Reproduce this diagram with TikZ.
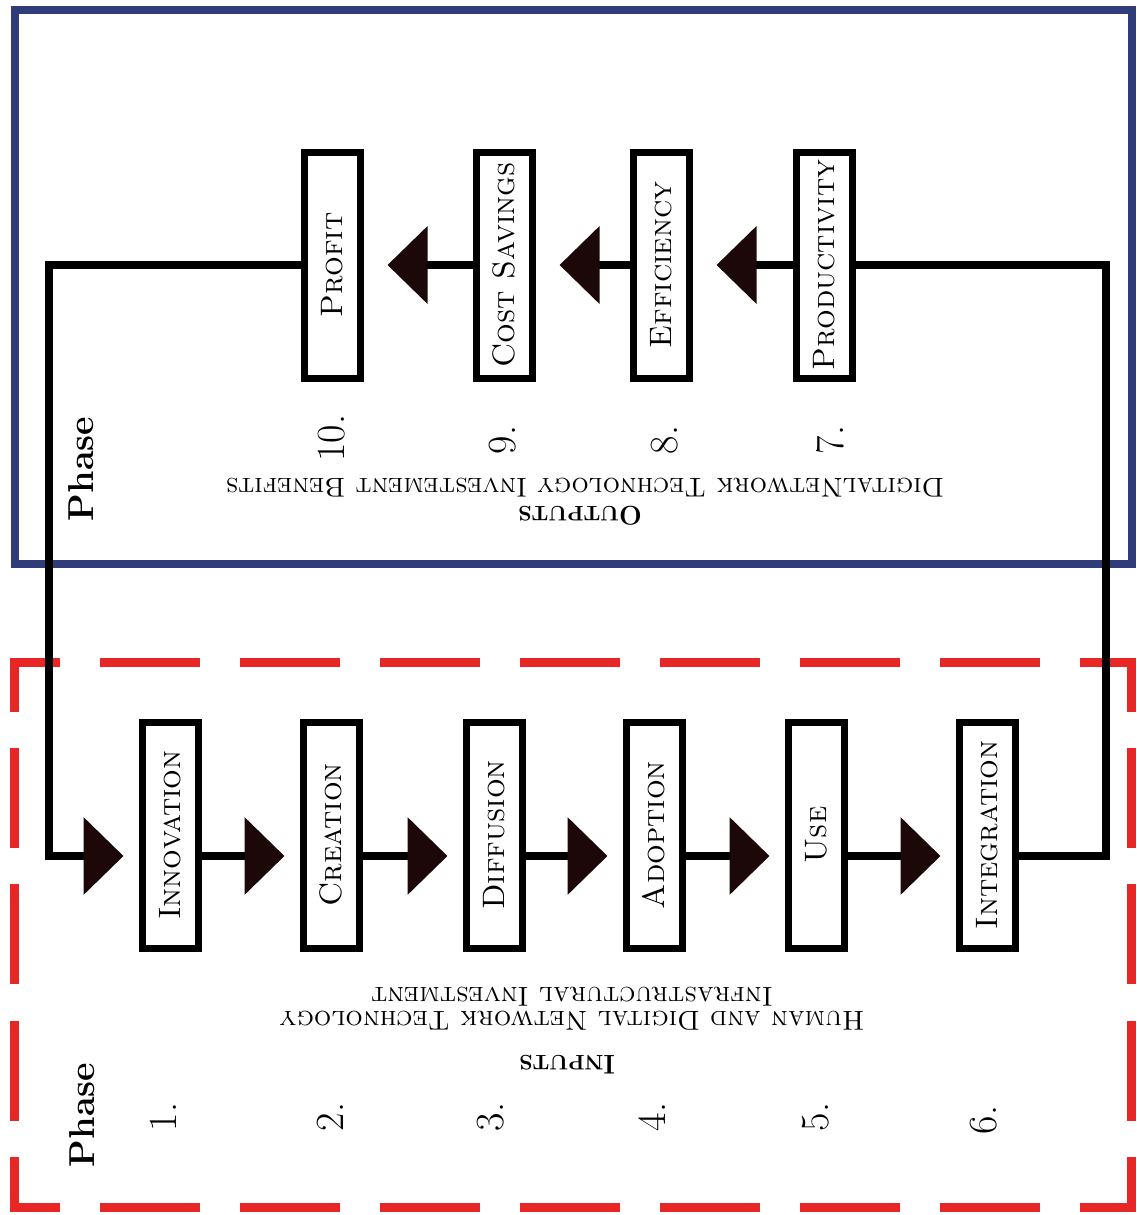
\documentclass[tikz,border=0pt]{standalone}
\usepackage{fontspec}
\usetikzlibrary{arrows.meta}
\definecolor{frameblue}{RGB}{48,60,122}
\definecolor{framered}{RGB}{232,38,38}
\definecolor{arrowc}{RGB}{28,8,8}
\newcommand\vtext[1]{\rotatebox{90}{\textsc{#1}}}
\newcommand\fakesc[2]{{\fontsize{13.5}{15}\selectfont #1}{\fontsize{10.5}{12}\selectfont #2}}
\begin{document}
\begin{tikzpicture}[x=0.5pt,y=-0.5pt,
  stage/.style={draw=black, line width=3.5pt, minimum width=28pt, minimum height=113pt,
    inner sep=0pt, fill=white, font=\fontsize{15.5}{17}\selectfont},
  flow/.style={draw=black, line width=4pt, line join=miter},
  tipT/.style={-{Triangle[length=20pt,width=38pt,color=arrowc]}, shorten >=12pt},
  tipB/.style={-{Triangle[length=20pt,width=38pt,color=arrowc]}, shorten >=7.5pt},
  numlbl/.style={rotate=90, font=\fontsize{20}{22}\selectfont, inner sep=0pt},
  phaselbl/.style={rotate=90, font=\fontsize{18}{20}\selectfont\bfseries, inner sep=0pt},
  flip/.style={rotate=180, inner sep=0pt, align=center},
  redside/.style={draw=framered, line width=4.5pt, dash phase=25pt}
]
\useasboundingbox (0,0) rectangle (1136,1215);
\fill[white] (0,0) rectangle (1136,1215);

% frames
\draw[frameblue, line width=4pt] (15,10) rectangle (1132,564);
\draw[redside, dash pattern=on 50pt off 20pt] (9.5,662) -- (1135.5,662);
\draw[redside, dash pattern=on 50pt off 20pt] (9.5,1207) -- (1135.5,1207);
\draw[redside, dash pattern=on 50pt off 18.1pt] (14,662) -- (14,1207);
\draw[redside, dash pattern=on 50pt off 18.1pt] (1131,662) -- (1131,1207);

% output stages
\node[stage] (profit) at (332,265) {\vtext{Profit}};
\node[stage] (cost)   at (504,265) {\vtext{Cost Savings}};
\node[stage] (effic)  at (661,265) {\vtext{Efficiency}};
\node[stage] (prod)   at (824,265) {\vtext{Productivity}};

% input stages
\node[stage] (innov)  at (170,835) {\vtext{Innovation}};
\node[stage] (creat)  at (331,835) {\vtext{Creation}};
\node[stage] (diffu)  at (494,835) {\vtext{Diffusion}};
\node[stage] (adopt)  at (654,835) {\vtext{Adoption}};
\node[stage] (use)    at (816,835) {\vtext{Use}};
\node[stage] (integ)  at (987,835) {\vtext{Integration}};

% loop corners
\coordinate (cTL) at (49,265);
\coordinate (cBL) at (49,856);
\coordinate (cTR) at (1106,265);
\coordinate (cBR) at (1106,856);

% connectors
\draw[flow, tipT] (cost.west) -- (profit.east);
\draw[flow, tipT] (effic.west) -- (cost.east);
\draw[flow, tipT] (prod.west) -- (effic.east);
\draw[flow, tipB] ([yshift=-10.5pt]innov.east) -- ([yshift=-10.5pt]creat.west);
\draw[flow, tipB] ([yshift=-10.5pt]creat.east) -- ([yshift=-10.5pt]diffu.west);
\draw[flow, tipB] ([yshift=-10.5pt]diffu.east) -- ([yshift=-10.5pt]adopt.west);
\draw[flow, tipB] ([yshift=-10.5pt]adopt.east) -- ([yshift=-10.5pt]use.west);
\draw[flow, tipB] ([yshift=-10.5pt]use.east) -- ([yshift=-10.5pt]integ.west);
\draw[flow] ([yshift=-10.5pt]integ.east) -- (cBR) -- (cTR) -- (prod.east);
\draw[flow, tipB] (profit.west) -- (cTL) -- (cBL) -- ([yshift=-10.5pt]innov.west);

% numbers
\node[numlbl] (n10) at (332,438) {10.};
\node[numlbl] (n9)  at (503,440) {9.};
\node[numlbl] (n8)  at (665,440) {8.};
\node[numlbl] (n7)  at (830,440) {7.};
\node[numlbl] (n1)  at (163,1117) {1.};
\node[numlbl] (n2)  at (330,1117) {2.};
\node[numlbl] (n3)  at (491,1117) {3.};
\node[numlbl] (n4)  at (652,1117) {4.};
\node[numlbl] (n5)  at (816,1117) {5.};
\node[numlbl] (n6)  at (984,1120) {6.};

% phase labels
\node[phaselbl] (ph1) at (81,469) {Phase};
\node[phaselbl] (ph2) at (82,1115) {Phase};

% upside-down captions
\node[flip, font=\fontsize{13.6}{15}\selectfont\scshape] (obenefit) at (585,488)
  {DigitalNetwork Technology Investement Benefits};
\node[flip, font=\bfseries] (otitle) at (580,516) {\fakesc{O}{UTPUTS}};
\node[flip, font=\fontsize{13.7}{12}\selectfont\scshape] (iinvest) at (572,1009)
  {Human and Digital Network Technology\\Infrastructural Investment};
\node[flip, font=\bfseries] (ititle) at (567,1065) {\fakesc{I}{NPUTS}};
\end{tikzpicture}
\end{document}
